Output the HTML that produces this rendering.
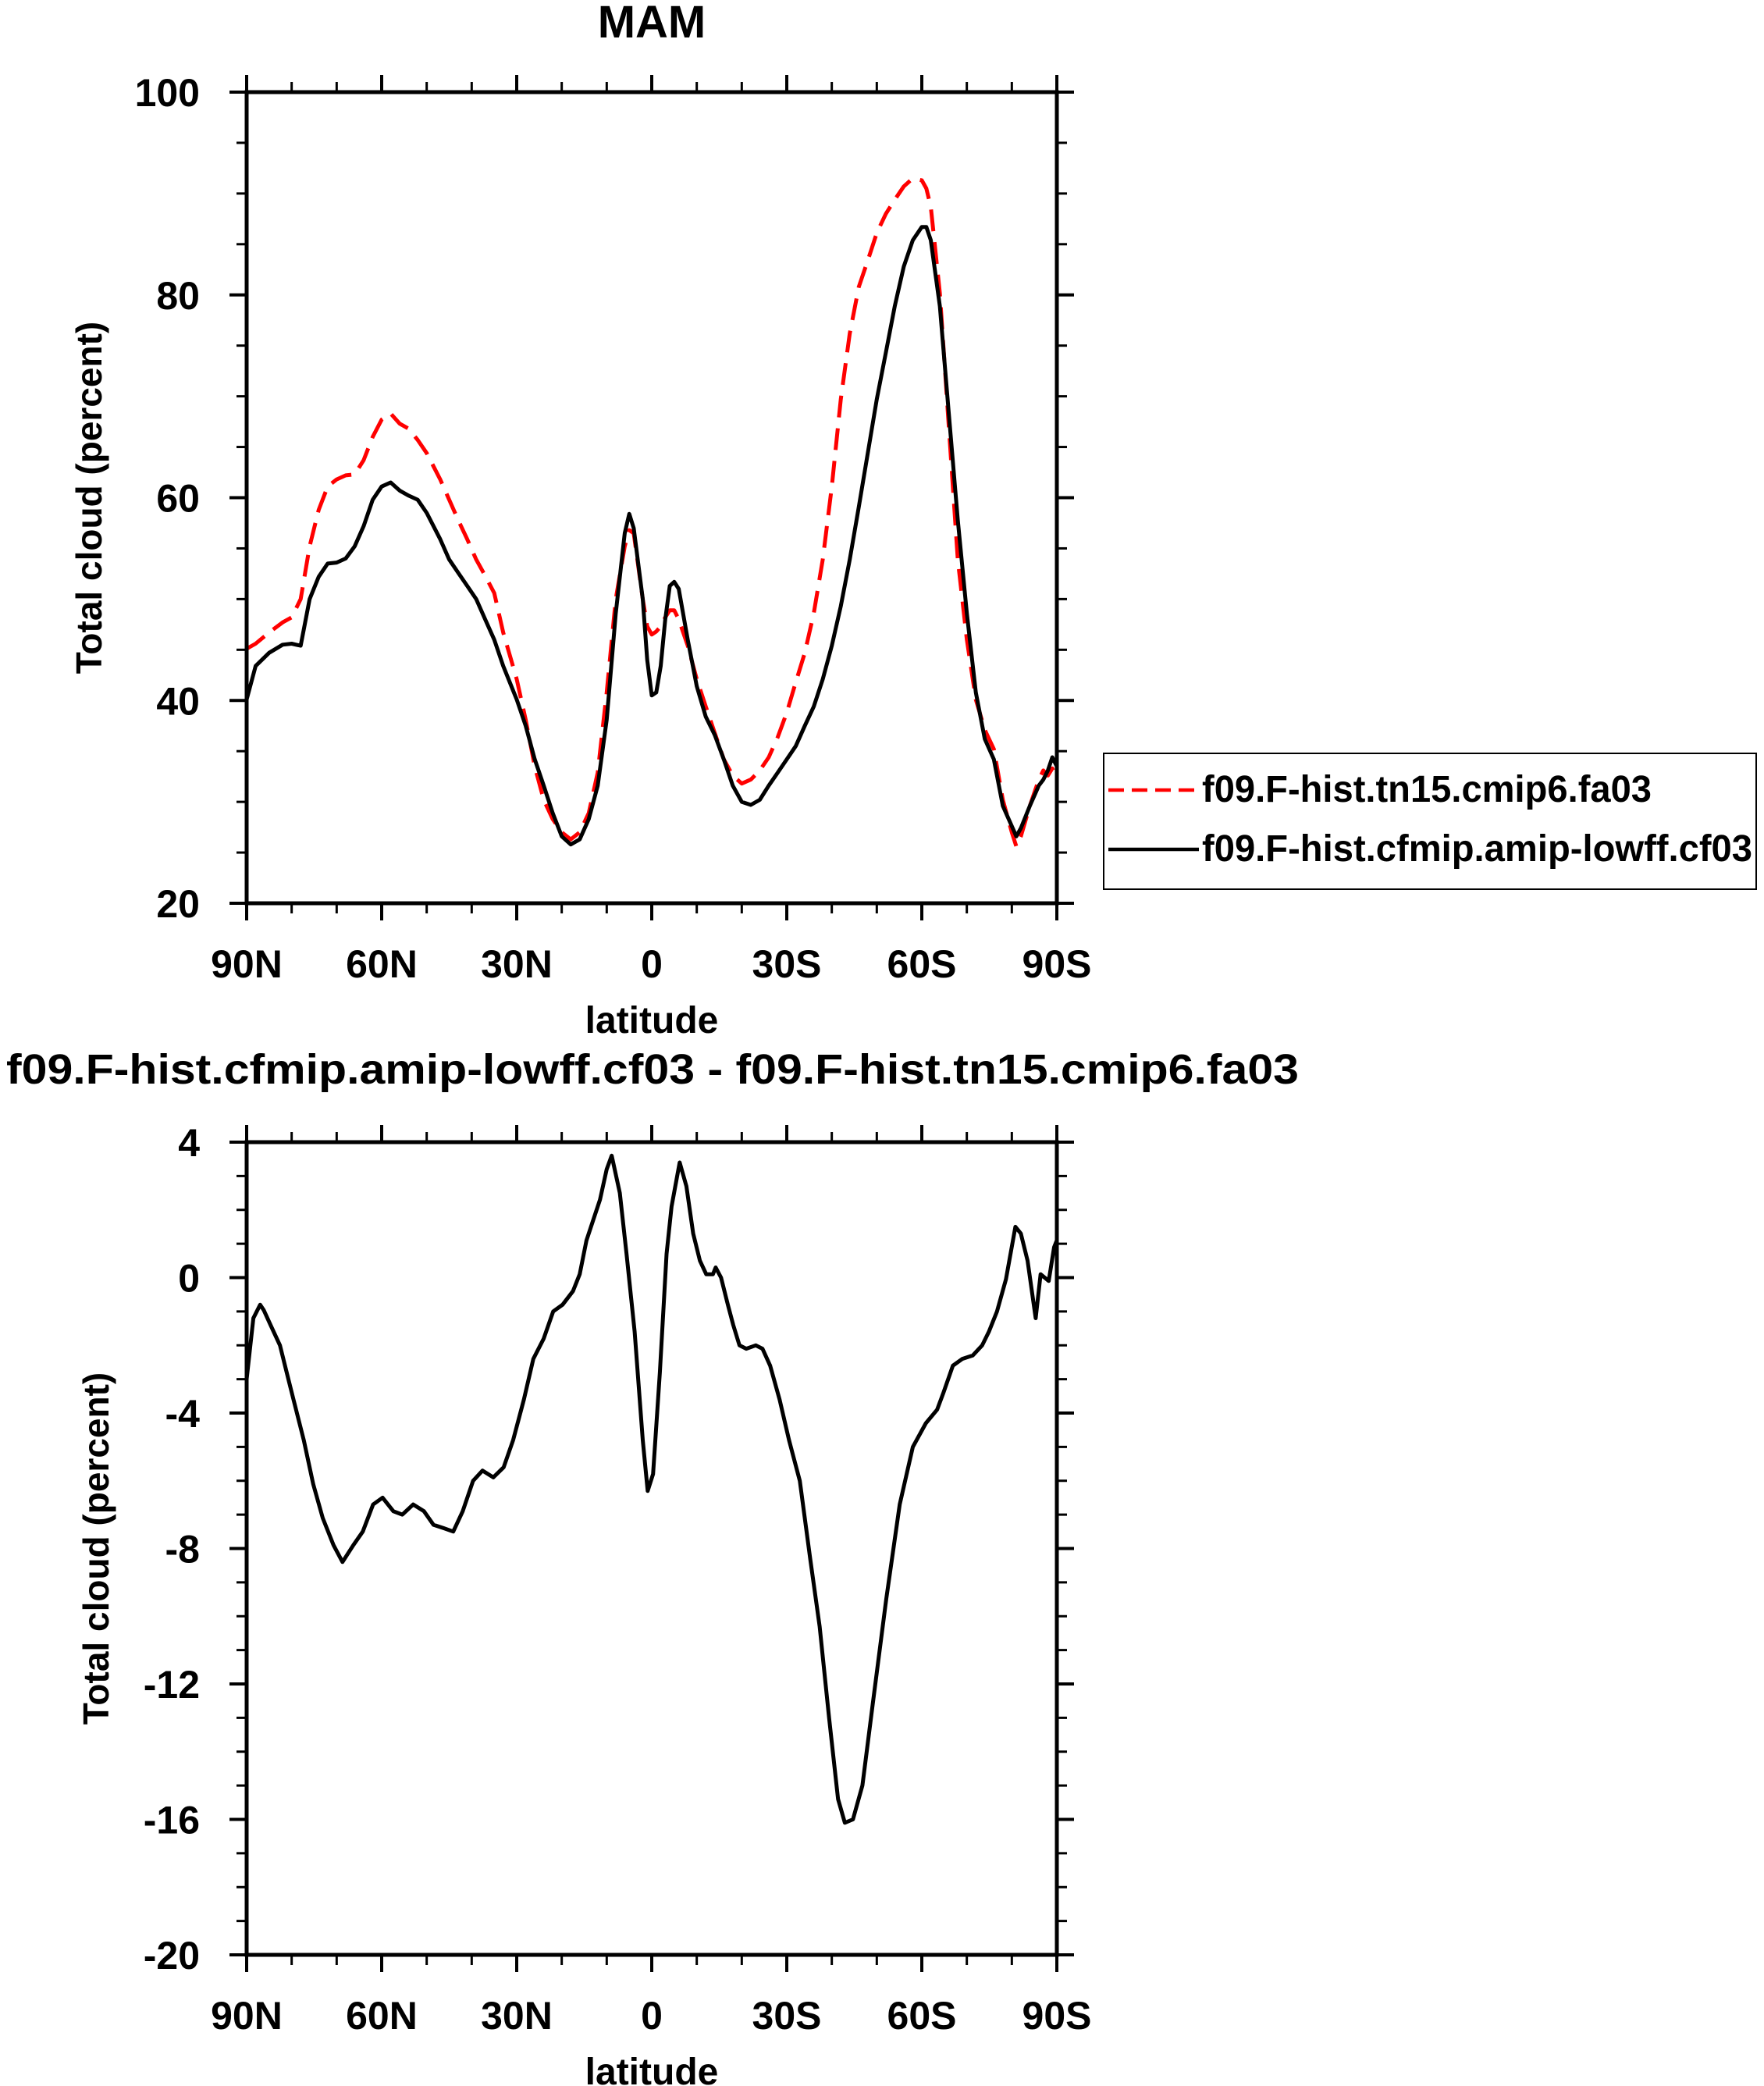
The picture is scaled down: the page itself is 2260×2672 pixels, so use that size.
<!DOCTYPE html>
<html><head><meta charset="utf-8"><style>
html,body{margin:0;padding:0;background:#fff;}
svg{display:block;font-family:"Liberation Sans",sans-serif;font-weight:bold;}
</style></head><body>
<svg id="chart" width="2260" height="2672" viewBox="0 0 2260 2672" xmlns="http://www.w3.org/2000/svg">
<text x="835" y="48" font-size="58" text-anchor="middle">MAM</text>
<g id="top"></g>
<g id="bot"></g>
<text x="836" y="1388" font-size="54" text-anchor="middle" textLength="1656" lengthAdjust="spacingAndGlyphs">f09.F-hist.cfmip.amip-lowff.cf03 - f09.F-hist.tn15.cmip6.fa03</text>
<g>
<rect x="1414" y="965" width="836" height="174" fill="none" stroke="#000" stroke-width="2"/>
<line x1="1420" y1="1012" x2="1536" y2="1012" stroke="#f00" stroke-width="4.5" stroke-dasharray="20,10"/>
<text x="1540" y="1027" font-size="48" textLength="576" lengthAdjust="spacingAndGlyphs">f09.F-hist.tn15.cmip6.fa03</text>
<line x1="1420" y1="1088" x2="1536" y2="1088" stroke="#000" stroke-width="4.5"/>
<text x="1540" y="1103" font-size="48" textLength="705" lengthAdjust="spacingAndGlyphs">f09.F-hist.cfmip.amip-lowff.cf03</text>
</g>
</svg>
<script>
const latTop = [90,88,85,82,80,78,76,74,72,70,68,66,64,62,60,58,56,54,52,50,47,45,43,41,39,37,35,33,30,28,26,24,22,20,18,16,14,12,10,8,6,5,4,2,1,0,-1,-2,-3,-4,-5,-6,-8,-10,-12,-14,-16,-18,-20,-22,-24,-26,-28,-30,-32,-34,-36,-38,-40,-42,-44,-46,-48,-50,-52,-54,-56,-58,-60,-61,-62,-64,-66,-68,-70,-72,-74,-76,-78,-80,-81,-82,-84,-86,-87,-88,-89,-90];
const cf03 = [40.1,43.4,44.7,45.5,45.6,45.4,50,52.2,53.5,53.6,54,55.2,57.2,59.8,61.1,61.5,60.7,60.2,59.8,58.5,55.9,53.9,52.6,51.3,50,48,46,43.4,40.1,37.5,34.2,31.6,28.9,26.6,25.8,26.3,28.3,31.6,38.1,48.6,56.5,58.4,57,50,44,40.5,40.8,43.4,48,51.3,51.7,51,46,41.4,38.4,36.6,34.2,31.6,30,29.7,30.2,31.6,32.9,34.2,35.5,37.5,39.4,42.1,45.4,49.3,53.9,59.1,64.4,69.7,74.3,78.9,82.8,85.4,86.7,86.7,85.4,78.9,68.3,57.8,48.6,40.8,36.2,34.2,29.6,27.6,26.6,27.4,29.6,31.6,32.2,33.1,34.4,33.5];
const fa03 = [45.1,45.6,46.7,47.7,48.2,50,55.2,58.8,61.1,61.8,62.2,62.3,63.7,66,67.7,68.3,67.3,66.8,65.7,64.4,61.8,59.8,57.8,55.9,53.9,52.3,50.6,46.7,42.1,38.1,33.5,30.2,28.3,27,26.3,27,28.9,32.9,40.8,50,55.2,56.8,56.5,50,47.3,46.5,46.8,47.3,48.2,48.9,48.9,48,45.4,42.1,39.4,36.8,34.2,32.6,31.8,32.2,33.1,34.4,36.4,38.8,41.8,44.7,48.6,53.9,61.1,69.7,76.2,80.8,83.4,86.1,88,89.4,90.7,91.5,91.3,90.5,88.7,80.2,67,53.9,46,40.1,37.1,35.2,30.2,27,25.6,26.6,29.6,32.2,33.1,32.6,33.3,32.2];
const latDiff = [90,88.5,87,86.2,84.7,82.6,81.1,79.6,77.3,75.2,73.1,70.7,68.7,66.3,64.2,61.9,59.8,57.4,55.4,53,50.6,48.5,46.2,44.1,42,39.7,37.6,35.2,32.9,30.8,28.4,26.3,24,21.9,19.8,17.5,16,14.5,11.5,10,8.9,7.1,5.6,3.8,2,0.9,-0.3,-1.8,-3.3,-4.4,-6.2,-7.7,-9.2,-10.7,-12.1,-13.6,-14.2,-15.4,-16.9,-18.1,-19.5,-21,-23.1,-24.6,-26.3,-28.4,-30.5,-32.9,-35.2,-37.3,-39.4,-41.4,-42.9,-44.7,-46.8,-49.1,-52.1,-55.1,-58,-60.9,-63.4,-64.8,-66.9,-69,-71.3,-73.4,-74.9,-76.7,-78.7,-80.8,-82,-83.5,-85.3,-86.4,-88.2,-89.4,-90];
const diff = [-3,-1.2,-0.8,-0.96,-1.4,-2.0,-2.8,-3.6,-4.8,-6.1,-7.1,-7.9,-8.4,-7.9,-7.5,-6.7,-6.5,-6.9,-7.0,-6.7,-6.9,-7.3,-7.4,-7.5,-6.9,-6,-5.7,-5.9,-5.6,-4.8,-3.6,-2.4,-1.8,-1.0,-0.8,-0.4,0.1,1.1,2.3,3.2,3.6,2.5,0.7,-1.6,-4.8,-6.3,-5.8,-2.8,0.7,2.1,3.4,2.7,1.3,0.5,0.1,0.1,0.3,0,-0.8,-1.4,-2,-2.1,-2,-2.1,-2.6,-3.6,-4.8,-6,-8.3,-10.3,-13,-15.4,-16.1,-16,-15,-12.6,-9.5,-6.7,-5,-4.3,-3.9,-3.4,-2.6,-2.4,-2.3,-2,-1.6,-1,-0.05,1.5,1.3,0.5,-1.2,0.1,-0.1,0.9,1.1];
const xTickLabels = ["90N","60N","30N","0","30S","60S","90S"];
const xTickVals = [90,60,30,0,-30,-60,-90];
const topYTicks = [20,40,60,80,100];
const botYTicks = [-20,-16,-12,-8,-4,0,4];

const NS="http://www.w3.org/2000/svg";
function mk(parent, tag, attrs){const e=document.createElementNS(NS,tag);for(const k in attrs)e.setAttribute(k,attrs[k]);parent.appendChild(e);return e;}

function panel(g, top, bottom, ymin, ymax, yTicks, minorStep, series, ytitle, prefix){
  const L=316,R=1354;
  const xs=lat=>L+(90-lat)/180*(R-L);
  const ys=v=>bottom-(v-ymin)/(ymax-ymin)*(bottom-top);
  for(let lat=90;lat>=-90;lat-=10){
    const x=xs(lat), major=(lat%30===0), len=major?22:13;
    const t1=mk(g,'line',{x1:x,y1:top,x2:x,y2:top-len,stroke:'#000','stroke-width':major?4:3});
    
    
    const t2=mk(g,'line',{x1:x,y1:bottom,x2:x,y2:bottom+len,stroke:'#000','stroke-width':major?4:3});
    
    
  }
  for(let v=ymin; v<=ymax+1e-9; v+=minorStep){
    const y=ys(v), major=yTicks.includes(Math.round(v)), len=major?22:13;
    const t1=mk(g,'line',{x1:L,y1:y,x2:L-len,y2:y,stroke:'#000','stroke-width':major?4:3});
    
    
    const t2=mk(g,'line',{x1:R,y1:y,x2:R+len,y2:y,stroke:'#000','stroke-width':major?4:3});
    
    
  }
  yTicks.forEach(v=>{
    const t=mk(g,'text',{x:256,y:ys(v)+18,'font-size':50,'text-anchor':'end'});
    t.textContent=String(v);
    
    
  });
  xTickVals.forEach((lat,i)=>{
    const t=mk(g,'text',{x:xs(lat),y:bottom+95,'font-size':50,'text-anchor':'middle'});
    t.textContent=xTickLabels[i];
    
    
  });
  const xt=mk(g,'text',{x:835,y:bottom+166,'font-size':48,'text-anchor':'middle'});
  xt.textContent='latitude';
  
  
  const cy=(top+bottom)/2;
  const yt=mk(g,'text',{x:0,y:0,'font-size':46,'text-anchor':'middle',transform:`translate(${ytitle},${cy}) rotate(-90)`});
  yt.textContent='Total cloud (percent)';
  
  
  series.forEach(s=>{
    const d=s.lat.map((la,i)=>(i?'L':'M')+xs(la).toFixed(1)+','+ys(s.val[i]).toFixed(1)).join(' ');
    const p=mk(g,'path',{d:d,fill:'none',stroke:s.color,'stroke-width':5,'stroke-linejoin':'round'});
    if(s.dash)p.setAttribute('stroke-dasharray',s.dash);
    
    
  });
  const f=mk(g,'rect',{x:L,y:top,width:R-L,height:bottom-top,fill:'none',stroke:'#000','stroke-width':5});
  
  
}
panel(document.getElementById('top'),118,1157,20,100,topYTicks,5,
  [{lat:latTop,val:fa03,color:'#f00',dash:'28,14',name:'line-fa03'},
   {lat:latTop,val:cf03,color:'#000',name:'line-cf03'}],130,'top-');
panel(document.getElementById('bot'),1463,2504,-20,4,botYTicks,1,
  [{lat:latDiff,val:diff,color:'#000',name:'line-difference'}],139,'bottom-');
</script>
</body></html>
